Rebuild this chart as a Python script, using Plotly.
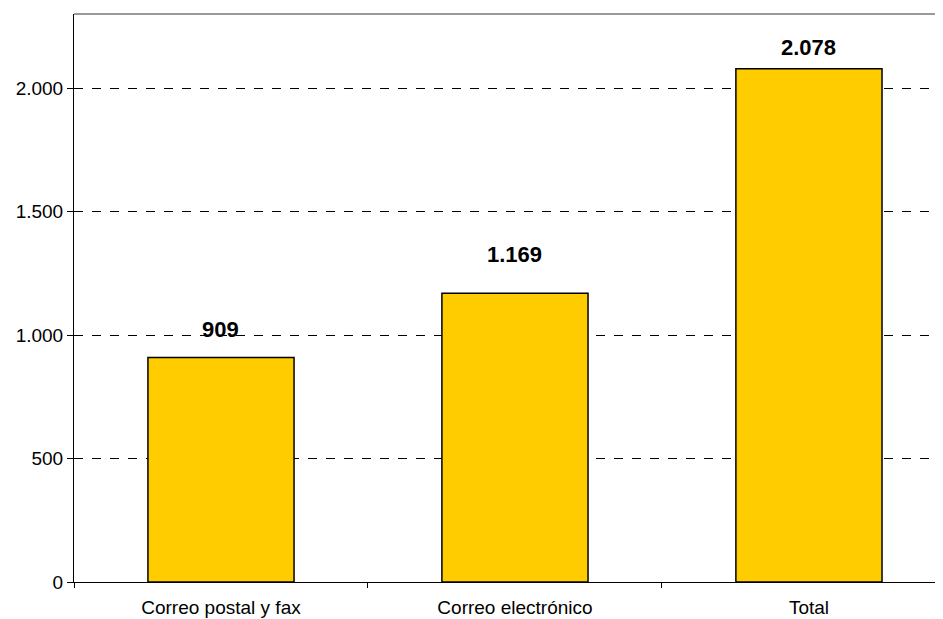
import plotly.graph_objects as go

categories = ["Correo postal y fax", "Correo electrónico", "Total"]
values = [909, 1169, 2078]
labels = ["909", "1.169", "2.078"]
tick_vals = [0, 500, 1000, 1500, 2000]
tick_text = ["0", "500", "1.000", "1.500", "2.000"]

label_shift = [28, 39, 21]

fig = go.Figure()
fig.add_trace(go.Bar(
    x=categories, y=values, width=0.497,
    marker=dict(color="#FFCC00", line=dict(color="black", width=1.5)),
    hoverinfo="skip",
))

for c, v, t, s in zip(categories, values, labels, label_shift):
    fig.add_annotation(x=c, y=v, text="<b>%s</b>" % t, showarrow=False,
                       yshift=s, font=dict(size=22, color="black",
                                           family="Liberation Sans, Arial"))

fig.add_shape(type="line", xref="paper", yref="paper", x0=0, x1=1, y0=1, y1=1,
              line=dict(color="#999999", width=2))

fig.update_layout(
    width=935, height=611,
    margin=dict(l=66, r=0, t=6, b=37),
    paper_bgcolor="white", plot_bgcolor="white",
    separators=",.",
    showlegend=False,
    font=dict(family="Liberation Sans, Arial", size=19, color="black"),
    xaxis=dict(
        range=[-0.5, 2.456], showline=True, linecolor="black", linewidth=1,
        ticks="outside", ticklen=5, tickcolor="black", tickson="boundaries",
        showgrid=False, tickfont=dict(size=19), ticklabelstandoff=8,
    ),
    yaxis=dict(
        range=[0, 2300], tickvals=tick_vals, ticktext=tick_text,
        showline=True, linecolor="black", linewidth=1,
        ticks="outside", ticklen=6, tickcolor="black",
        showgrid=True, gridcolor="black", griddash="dash", gridwidth=1,
        zeroline=False, tickfont=dict(size=19),
    ),
)

fig.write_html("out.html")
